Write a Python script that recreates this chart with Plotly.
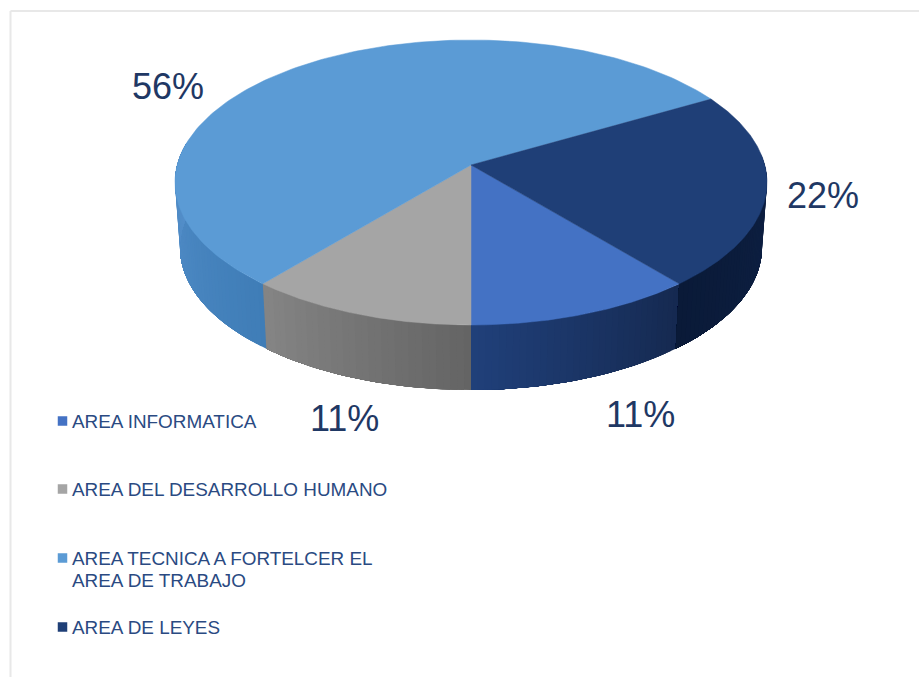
import numpy as np
import plotly.graph_objects as go

# --- data ---
categories = ["AREA INFORMATICA", "AREA DEL DESARROLLO HUMANO",
              "AREA TECNICA A FORTELCER EL<br>AREA DE TRABAJO", "AREA DE LEYES"]
values = [11, 11, 56, 22]
top_colors = ["#4472C4", "#A5A5A5", "#5B9BD5", "#1F3F77"]
wall_start = ["#152950", "#646464", "#3F7DB7", "#0E2145"]
wall_end = ["#20407A", "#858585", "#5590CB", "#0A1A38"]

# --- projection of the pie (page pixels) ---
W, H = 919, 677
APEX = (471, 165)
CX, CY, RX, RY = 471, 182.5, 296, 142.5
BOT_CY, BOT_RX, BOT_RY = 247.5, 291, 142.5
FIRST_ANGLE = 180 - 360 * values[0] / sum(values)
SKEW = 8.0  # perspective distortion of angles, degrees


def warp(t):
    return t - SKEW * np.sin(np.radians(t))


def rim(t, cy=CY, rx=RX, ry=RY):
    p = np.radians(warp(t))
    return CX + rx * np.sin(p), cy - ry * np.cos(p)


def hex2rgb(h):
    return np.array([int(h[i:i + 2], 16) for i in (1, 3, 5)], float)


def mix(a, b, f):
    c = hex2rgb(a) * (1 - f) + hex2rgb(b) * f
    return "rgb(%d,%d,%d)" % tuple(c.round())


fig = go.Figure()

# slice angle spans (clockwise from the top) derived from the values
edges = FIRST_ANGLE + np.concatenate([[0], np.cumsum(values)]) * 360 / sum(values)

# side walls, as overlapping strips to carry the shading without seams
for i, cat in enumerate(categories):
    a0, a1 = edges[i], edges[i + 1]
    lo, hi = max(a0, 86), min(a1, 278)
    if hi <= lo:
        lo, hi = max(a0 - 360, 86), min(a1 - 360, 278)
    if hi <= lo:
        continue
    n = max(2, int((hi - lo) / 1.2))
    ts = np.linspace(lo, hi, n + 1)
    for k in range(n):
        arc = np.linspace(ts[k], hi, 40)
        xt, yt = rim(arc)
        xb, yb = rim(arc[::-1], BOT_CY, BOT_RX, BOT_RY)
        c = mix(wall_start[i], wall_end[i], (k + .5) / n)
        fig.add_trace(go.Scatter(x=np.r_[xt, xb, xt[0]], y=np.r_[yt, yb, yt[0]],
                                 mode="lines", fill="toself", showlegend=False, hoverinfo="skip",
                                 line=dict(color=c, width=0), fillcolor=c))

# top faces
for i, cat in enumerate(categories):
    ts = np.linspace(edges[i], edges[i + 1], 160)
    xs, ys = rim(ts)
    fig.add_trace(go.Scatter(x=np.r_[APEX[0], xs, APEX[0]], y=np.r_[APEX[1], ys, APEX[1]],
                             name=cat.replace("<br>", " "),
                             line=dict(color=top_colors[i], width=0.5), fillcolor=top_colors[i],
                             mode="lines", fill="toself", showlegend=False, hoverinfo="name"))

# legend (squares + text)
legend_y = [421, 489, 558, 627]
LINE_GAP = 22
for i, cat in enumerate(categories):
    fig.add_trace(go.Scatter(x=[62.5], y=[legend_y[i]], mode="markers", showlegend=False, hoverinfo="skip",
                             marker=dict(symbol="square", size=9.5, color=top_colors[i], line=dict(width=0))))
    for j, line in enumerate(cat.split("<br>")):
        fig.add_annotation(x=70, y=legend_y[i] + j * LINE_GAP, text=line, showarrow=False,
                           xanchor="left", yanchor="middle", align="left",
                           font=dict(family="Liberation Sans", size=18.9, color="#2A4A82"))

# percentage labels
label_pos = [(640, 414), (344, 418), (168, 86), (823, 195)]
for v, (x, y) in zip(values, label_pos):
    fig.add_annotation(x=x, y=y, text=f"{v}%", showarrow=False,
                       font=dict(family="Liberation Sans", size=36, color="#1F3864"))

# faint frame
fig.add_shape(type="line", x0=10.5, x1=W, y0=11, y1=11, line=dict(color="#E8E8E8", width=2))
fig.add_shape(type="line", x0=10.5, x1=10.5, y0=11, y1=H, line=dict(color="#E8E8E8", width=2))

fig.update_xaxes(range=[0, W], visible=False, fixedrange=True)
fig.update_yaxes(range=[H, 0], visible=False, fixedrange=True)
fig.update_layout(width=W, height=H, margin=dict(l=0, r=0, t=0, b=0),
                  paper_bgcolor="white", plot_bgcolor="white", showlegend=False)
fig.write_html("out.html", config=dict(displayModeBar=False),
               post_script="document.body.style.margin='0';document.body.style.overflow='hidden';")
